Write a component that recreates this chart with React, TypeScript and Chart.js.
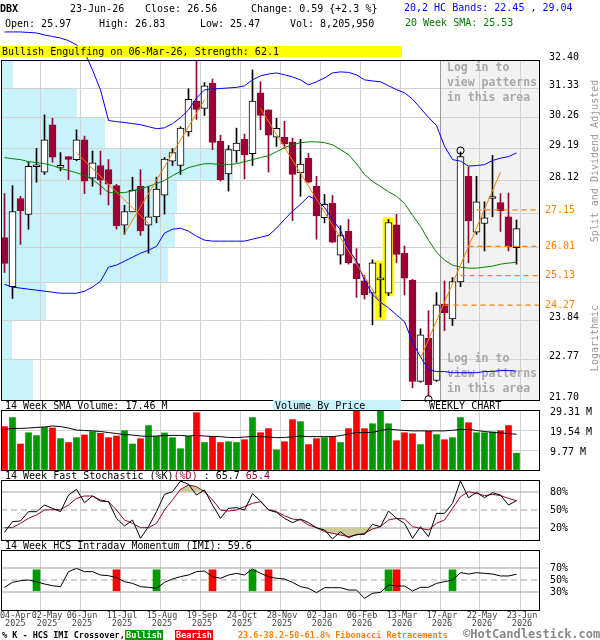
import React, { useEffect, useRef } from 'react';
import { Chart, registerables } from 'chart.js';

Chart.register(...registerables);

const MONO = '"DejaVu Sans Mono", "Liberation Mono", monospace';

// ---------------- data (weekly, 04-Apr-2025 ... 23-Jun-2026) ----------------
const openP = [26.28, 24.80, 27.52, 27.01, 28.57, 28.39, 30.02, 28.55, 28.91, 28.81,
  29.49, 28.19, 28.61, 28.47, 27.94, 26.67, 27.09, 27.92, 26.67, 26.93,
  27.63, 28.76, 28.61, 29.77, 30.87, 30.60, 31.53, 29.45, 28.33, 29.11,
  29.51, 29.01, 31.17, 30.55, 29.58, 29.58, 29.41, 28.36, 28.85, 27.92,
  26.90, 27.36, 25.74, 26.48, 25.49, 24.97, 24.61, 25.00, 24.61, 26.68,
  25.80, 24.99, 22.18, 23.34, 22.21, 24.30, 23.88, 24.94, 28.25, 26.45,
  26.72, 27.52, 27.39, 26.93, 25.97];
const highP = [27.68, 27.94, 27.59, 28.72, 29.19, 30.37, 30.25, 29.05, 28.91, 29.84,
  29.62, 29.10, 29.10, 28.81, 27.98, 27.30, 28.22, 28.47, 27.92, 28.22,
  28.88, 29.19, 29.95, 31.32, 32.36, 31.55, 31.68, 29.65, 29.29, 29.90,
  29.69, 32.02, 31.58, 30.55, 30.25, 30.14, 29.55, 29.51, 29.02, 28.25,
  27.65, 27.62, 26.65, 26.85, 25.94, 25.14, 25.60, 25.48, 26.85, 27.01,
  26.02, 25.02, 23.60, 24.11, 24.63, 24.97, 25.07, 29.07, 28.56, 28.25,
  27.41, 28.95, 27.68, 27.70, 26.83];
const lowP = [25.22, 24.46, 26.07, 26.54, 28.05, 28.31, 28.72, 28.43, 28.14, 28.77,
  27.68, 27.92, 27.65, 27.31, 26.54, 26.38, 27.09, 26.35, 25.80, 26.74,
  27.02, 28.61, 28.31, 29.62, 30.21, 30.35, 29.15, 28.09, 27.76, 28.72,
  28.16, 28.61, 29.84, 28.39, 29.26, 29.19, 26.81, 27.59, 28.03, 26.23,
  26.74, 26.12, 25.47, 25.47, 24.49, 24.44, 23.71, 23.93, 24.54, 25.51,
  24.56, 22.01, 22.16, 21.80, 22.18, 23.55, 23.69, 24.80, 25.51, 26.38,
  25.87, 26.93, 26.47, 25.87, 25.47];
const closeP = [25.49, 27.10, 27.12, 28.58, 28.62, 29.49, 28.89, 28.57, 28.82, 29.49,
  28.09, 28.70, 28.12, 27.99, 26.64, 27.10, 27.79, 26.49, 26.93, 27.83,
  28.83, 29.05, 29.90, 30.93, 30.57, 31.43, 29.40, 28.14, 29.15, 29.38,
  28.98, 30.87, 30.35, 29.65, 29.89, 29.35, 28.31, 28.66, 28.05, 26.96,
  27.33, 26.14, 26.34, 25.51, 25.04, 24.56, 25.51, 25.04, 26.75, 25.76,
  25.05, 22.18, 23.43, 22.09, 24.28, 24.05, 24.95, 28.91, 26.80, 27.41,
  26.90, 27.56, 27.12, 26.00, 26.56];
const volumeM = [21.2, 25.6, 12.7, 18.2, 16.8, 20.8, 20.5, 15.3, 13.4, 15.8,
  17.1, 18.7, 17.9, 15.8, 16.6, 19.2, 12.7, 15.3, 21.7, 16.4,
  18.1, 15.8, 10.4, 16.4, 28.0, 13.4, 16.4, 13.4, 13.8, 13.4,
  14.8, 25.6, 18.2, 20.2, 9.9, 13.8, 24.6, 23.6, 12.4, 15.3,
  15.8, 16.3, 13.4, 20.2, 29.0, 20.2, 22.6, 29.0, 22.6, 14.3,
  18.2, 17.7, 12.4, 18.9, 17.3, 14.8, 15.8, 25.6, 23.1, 18.2,
  18.2, 18.6, 19.2, 21.7, 8.21];
const volumeSma14 = [19.8, 20.3, 20.3, 20.5, 20.8, 21.0, 21.5, 21.2, 20.5, 19.5,
  19.3, 19.1, 18.8, 18.3, 17.8, 17.3, 17.1, 16.6, 16.4, 16.6,
  16.8, 16.9, 16.9, 16.6, 16.9, 16.6, 16.4, 16.3, 15.9, 15.8,
  16.1, 16.4, 16.3, 16.1, 15.8, 15.9, 16.2, 16.6, 16.3, 16.3,
  16.3, 16.3, 16.8, 17.6, 18.3, 18.3, 18.4, 19.3, 19.9, 19.6,
  19.3, 19.1, 19.1, 19.1, 19.1, 19.1, 19.4, 19.8, 19.8, 19.3,
  18.8, 18.4, 18.1, 17.8, 17.46];
const bandUpper = [33.49, 33.49, 33.49, 33.47, 33.45, 33.37, 33.31, 33.25, 33.15, 32.98,
  32.71, 32.02, 31.28, 30.17, 30.13, 30.10, 30.06, 30.02, 29.95, 29.88,
  29.91, 30.06, 30.27, 30.55, 30.98, 31.28, 31.31, 31.33, 31.35, 31.37,
  31.43, 31.65, 31.80, 31.87, 31.91, 31.84, 31.76, 31.65, 31.46, 31.58,
  31.72, 31.91, 31.95, 31.93, 31.84, 31.65, 31.61, 31.58, 31.43, 31.29,
  31.17, 30.94, 30.61, 30.28, 29.99, 29.27, 28.81, 28.76, 28.59, 28.61,
  28.64, 28.78, 28.86, 28.91, 29.04];
const bandLower = [24.87, 24.79, 24.76, 24.73, 24.70, 24.67, 24.64, 24.61, 24.61, 24.61,
  24.67, 24.79, 24.96, 25.38, 25.44, 25.56, 25.68, 25.80, 25.89, 26.01,
  26.42, 26.54, 26.57, 26.48, 26.32, 26.20, 26.17, 26.17, 26.17, 26.17,
  26.17, 26.23, 26.29, 26.35, 26.57, 26.85, 27.11, 27.33, 27.59, 27.49,
  27.23, 26.85, 26.51, 25.92, 25.56, 24.99, 24.58, 24.35, 24.19, 23.99,
  23.80, 23.24, 22.83, 22.49, 22.44, 22.44, 22.41, 22.41, 22.41, 22.41,
  22.44, 22.44, 22.47, 22.47, 22.45];
const sma20 = [28.88, 28.84, 28.81, 28.74, 28.71, 28.67, 28.61, 28.51, 28.44, 28.37,
  28.27, 28.14, 27.94, 27.71, 27.71, 27.71, 27.77, 27.84, 27.91, 28.01,
  28.11, 28.27, 28.41, 28.54, 28.61, 28.67, 28.67, 28.64, 28.64, 28.67,
  28.74, 28.81, 28.88, 28.94, 29.08, 29.22, 29.32, 29.39, 29.42, 29.42,
  29.39, 29.32, 29.15, 28.98, 28.67, 28.31, 28.08, 27.91, 27.74, 27.59,
  27.36, 26.98, 26.63, 26.20, 25.83, 25.59, 25.44, 25.38, 25.35, 25.35,
  25.38, 25.41, 25.47, 25.50, 25.53];
const stochK = [12.8, 30.5, 31.7, 47.2, 47.2, 58.3, 52.8, 47.2, 75.0, 84.4,
  62.2, 73.3, 65.0, 63.9, 36.1, 23.3, 33.3, 2.8, 22.2, 47.2,
  76.1, 80.5, 98.3, 92.8, 75.0, 83.3, 58.3, 36.1, 52.8, 53.9,
  50.0, 77.2, 65.0, 50.0, 46.1, 36.1, 28.9, 35.0, 28.9, 20.5,
  16.7, 1.7, 13.9, 3.9, 9.4, 9.4, 26.1, 22.2, 48.3, 36.1,
  27.8, 2.8, 22.2, 5.6, 44.4, 44.4, 61.1, 98.3, 70.5, 79.4,
  70.5, 78.9, 75.0, 58.3, 65.7];
const stochD = [20.5, 20.5, 27.8, 36.1, 41.7, 50.0, 50.6, 50.6, 58.3, 69.4,
  73.3, 73.3, 66.7, 63.9, 50.0, 33.3, 27.8, 20.5, 20.5, 27.8,
  50.0, 66.7, 84.4, 91.7, 88.9, 80.5, 66.7, 50.0, 48.3, 50.0,
  55.6, 61.1, 63.9, 50.6, 47.2, 40.5, 35.0, 33.3, 25.0, 20.5,
  13.9, 11.1, 8.3, 5.6, 8.3, 11.1, 18.3, 22.2, 33.3, 36.1,
  35.0, 22.2, 19.4, 16.7, 27.8, 33.3, 52.8, 72.2, 80.5, 77.8,
  73.9, 76.1, 73.9, 69.4, 65.4];
const imi = [37.8, 46.1, 48.9, 50.0, 47.2, 43.3, 40.5, 38.9, 63.9, 69.4,
  63.9, 63.9, 58.3, 57.2, 53.9, 47.2, 44.4, 38.9, 37.8, 36.1,
  46.1, 51.7, 55.6, 58.3, 63.9, 65.0, 55.6, 52.8, 58.3, 61.1,
  58.3, 68.3, 61.1, 55.6, 52.8, 51.7, 46.1, 38.9, 36.1, 28.9,
  37.2, 37.2, 37.2, 33.3, 33.3, 19.4, 27.8, 29.4, 41.7, 40.0,
  40.0, 31.7, 37.8, 37.8, 44.4, 47.2, 50.0, 62.2, 60.0, 62.2,
  61.1, 60.0, 56.7, 56.7, 59.6];
const imiBullIdx = [4, 19, 31, 48, 56];
const imiBearIdx = [14, 26, 33, 49];
const imiMarkerRange = [32, 67];

const priceTicks = [32.40, 31.33, 30.26, 29.19, 28.12, 27.05, 25.98, 24.91, 23.84, 22.77, 21.70];
const priceTickShown = [true, true, true, true, true, false, false, false, true, true, true];
// volume-by-price share (% of panel width) for each band between consecutive price ticks
const vbpShare = [2.2, 14.1, 19.3, 43.0, 32.7, 32.3, 31.0, 8.3, 2.0, 5.9];
const fibLevels = [27.15, 26.01, 25.13, 24.27];
const fibStartIdx = [59, 58, 57, 55];
const swingFromIdx = [9, 15, 32, 52];
const swingFromVal = [29.04, 26.40, 30.60, 22.80];
const swingToIdx = [18, 25, 47, 62];
const swingToVal = [26.72, 30.91, 24.34, 28.39];
const patternIdx = [47, 48];
const patternLow = [23.85, 24.53];
const patternHigh = [25.56, 26.91];
const pivotIdx = [53, 57];
const pivotVal = [21.72, 29.12];
const loginFromIdx = 54.5;
const volTicks = [0, 9.77, 19.54, 29.31];
const stochTicks = [20, 50, 80];
const imiTicks = [30, 50, 70];
const dateTickIdx = [0, 4, 9, 14, 19, 24, 29, 34, 39, 44, 49, 54, 59, 64];
const dateTickDay = ['04-Apr', '02-May', '06-Jun', '11-Jul', '15-Aug', '19-Sep', '24-Oct',
  '28-Nov', '02-Jan', '06-Feb', '13-Mar', '17-Apr', '22-May', '23-Jun'];
const dateTickYear = ['2025', '2025', '2025', '2025', '2025', '2025', '2025',
  '2025', '2026', '2026', '2026', '2026', '2026', '2026'];

// ---------------- styling ----------------
const GRID = '#d2d2d2';
const MAROON = '#990033';
const BLUE = '#0000ff';
const SMA_GREEN = '#008000';
const ORANGE = '#ff8000';
const VOL_GREEN = '#009900';
const VOL_RED = '#ff0000';
const KHAKI = '#cccc99';
const VBP_CYAN = '#c8f3fa';
const REF_GRAY = '#a0a0a0';
const X_MIN = -0.4375;
const X_MAX = 66.9375;
const GRID_OFFSET = 0.4375;
const CLEAR = 'rgba(0,0,0,0)';

const idx = openP.map((_, i) => i);
const isBull = idx.map((i) => closeP[i] >= openP[i]);
const series = (arr: number[]) => arr.map((v, i) => ({ x: i, y: v }));
const gridIdx = dateTickIdx.slice(1).map((i) => i + GRID_OFFSET);

function xAxis() {
  return {
    type: 'linear',
    min: X_MIN,
    max: X_MAX,
    offset: false,
    afterBuildTicks: (s: any) => { s.ticks = gridIdx.map((v) => ({ value: v })); },
    afterFit: (s: any) => { s.height = 0; s.paddingLeft = 0; s.paddingRight = 0; },
    ticks: { display: false },
    grid: { color: GRID, drawTicks: false, lineWidth: 1, offset: false },
    border: { display: false },
  };
}

function rightAxis(o: any) {
  return {
    type: o.type || 'linear',
    position: 'right',
    min: o.min,
    max: o.max,
    afterBuildTicks: (s: any) => { s.ticks = o.ticks.map((v: number) => ({ value: v })); },
    afterFit: (s: any) => { s.width = 60; s.paddingTop = 0; s.paddingBottom = 0; },
    ticks: {
      autoSkip: false,
      padding: o.padding,
      labelOffset: o.labelOffset,
      color: '#000',
      font: { family: MONO, size: 10 },
      callback: o.label,
    },
    grid: o.grid ? { color: GRID, drawTicks: false } : { display: false, drawTicks: false },
    border: { display: false },
  };
}

const framePlugin = {
  id: 'frame',
  afterDraw(chart: any) {
    const { ctx, chartArea: a } = chart;
    ctx.save();
    ctx.strokeStyle = '#000';
    ctx.lineWidth = 1;
    ctx.strokeRect(a.left + 0.5, a.top + 0.5, a.right - a.left - 1, a.bottom - a.top);
    ctx.restore();
  },
};

const mainDecor = {
  id: 'mainDecor',
  beforeDraw(chart: any) {
    const { ctx, chartArea: a, scales } = chart;
    const y = scales.y, x = scales.x, xv = scales.xv;
    ctx.save();
    const gx = Math.round(x.getPixelForValue(loginFromIdx));
    ctx.fillStyle = '#f2f2f2';
    ctx.fillRect(gx, a.top, a.right - gx, a.bottom - a.top);
    ctx.fillStyle = VBP_CYAN;
    for (let k = 0; k < vbpShare.length; k++) {
      const t = Math.round(y.getPixelForValue(priceTicks[k]));
      const b = Math.round(y.getPixelForValue(priceTicks[k + 1]));
      const w = Math.round(xv.getPixelForValue(vbpShare[k])) - a.left;
      ctx.fillRect(a.left, t, w, b - t);
    }
    ctx.restore();
  },
  beforeDatasetsDraw(chart: any) {
    const { ctx, chartArea: a, scales } = chart;
    const gx = Math.round(scales.x.getPixelForValue(loginFromIdx));
    ctx.save();
    ctx.strokeStyle = '#9a9a9a';
    ctx.lineWidth = 1;
    ctx.beginPath();
    ctx.moveTo(gx + 0.5, a.top);
    ctx.lineTo(gx + 0.5, a.bottom);
    ctx.stroke();
    ctx.font = 'bold 11.5px ' + MONO;
    ctx.fillStyle = '#a8a8a8';
    ctx.textBaseline = 'middle';
    ctx.textAlign = 'left';
    const lines = ['Log in to', 'view patterns', 'in this area'];
    lines.forEach((s, k) => {
      ctx.fillText(s, gx + 7, a.top + 8 + 15 * k);
      ctx.fillText(s, gx + 7, a.bottom - 41 + 15 * k);
    });
    ctx.restore();
  },
  afterDraw(chart: any) {
    const { ctx, chartArea: a, scales } = chart;
    ctx.save();
    ctx.font = '10px ' + MONO;
    ctx.fillStyle = ORANGE;
    ctx.textAlign = 'left';
    ctx.textBaseline = 'middle';
    fibLevels.forEach((v) => {
      ctx.fillText(v.toFixed(2), a.right + 5, scales.y.getPixelForValue(v));
    });
    ctx.restore();
  },
};

const dateLabels = {
  id: 'dateLabels',
  afterDraw(chart: any) {
    const { ctx, chartArea: a, scales } = chart;
    ctx.save();
    ctx.font = '8.5px ' + MONO;
    ctx.fillStyle = '#444';
    ctx.textAlign = 'center';
    ctx.textBaseline = 'middle';
    let prevRight = -Infinity;
    dateTickIdx.forEach((i, k) => {
      const w = ctx.measureText(dateTickDay[k]).width;
      let px = Math.max(scales.x.getPixelForValue(i + GRID_OFFSET) + 2, w / 2);
      if (px - w / 2 < prevRight + 1) px = prevRight + 1 + w / 2;
      prevRight = px + w / 2;
      ctx.fillText(dateTickDay[k], px, a.bottom + 6);
      ctx.fillText(dateTickYear[k], px, a.bottom + 14);
    });
    ctx.restore();
  },
};

const baseOptions = (padding: any) => ({
  animation: false,
  responsive: false,
  events: [],
  layout: { padding, autoPadding: false },
  plugins: { legend: { display: false }, tooltip: { enabled: false } },
});

function refLine(v: number, dashed: boolean) {
  return {
    type: 'line',
    data: [{ x: X_MIN, y: v }, { x: X_MAX, y: v }],
    borderColor: REF_GRAY,
    borderWidth: 1,
    borderDash: dashed ? [6, 4] : [],
    pointRadius: 0,
    order: 20,
  };
}

function mainConfig(): any {
  const datasets: any[] = [
    {
      type: 'bar',
      data: patternIdx.map((i, k) => ({ x: i, y: [patternLow[k], patternHigh[k]] })),
      backgroundColor: '#ffff00',
      barThickness: 11, maxBarThickness: 11, grouped: false, order: 10,
    },
    {
      type: 'bar',
      data: idx.map((i) => ({ x: i, y: [lowP[i], highP[i]] })),
      backgroundColor: idx.map((i) => (isBull[i] ? '#000' : MAROON)),
      barThickness: 1, maxBarThickness: 1, grouped: false, order: 7,
    },
    {
      type: 'bar',
      data: idx.map((i) => ({ x: i, y: [Math.min(openP[i], closeP[i]), Math.max(openP[i], closeP[i])] })),
      backgroundColor: idx.map((i) => (isBull[i] ? '#fff' : MAROON)),
      borderColor: idx.map((i) => (isBull[i] ? '#000' : MAROON)),
      borderWidth: 1, borderSkipped: false, minBarLength: 2,
      barThickness: 7, maxBarThickness: 7, grouped: false, order: 6,
    },
    { type: 'line', data: series(bandUpper), borderColor: BLUE, borderWidth: 1, pointRadius: 0, clip: false, order: 4 },
    { type: 'line', data: series(bandLower), borderColor: BLUE, borderWidth: 1, pointRadius: 0, order: 4 },
    { type: 'line', data: series(sma20), borderColor: SMA_GREEN, borderWidth: 1, pointRadius: 0, order: 4 },
  ];
  fibLevels.forEach((v, k) => {
    datasets.push({
      type: 'line', data: [{ x: fibStartIdx[k], y: v }, { x: X_MAX, y: v }],
      borderColor: ORANGE, borderWidth: 1.2, borderDash: [5, 4], pointRadius: 0, order: 3,
    });
  });
  swingFromIdx.forEach((f, k) => {
    datasets.push({
      type: 'line', data: [{ x: f, y: swingFromVal[k] }, { x: swingToIdx[k], y: swingToVal[k] }],
      borderColor: ORANGE, borderWidth: 1, pointRadius: 0, order: 3,
    });
  });
  datasets.push({
    type: 'line', showLine: false,
    data: pivotIdx.map((i, k) => ({ x: i, y: pivotVal[k] })),
    pointRadius: 3.6, pointBorderColor: '#000', pointBackgroundColor: CLEAR, pointBorderWidth: 1,
    clip: false, order: 1,
  });
  return {
    type: 'bar',
    data: { datasets },
    options: {
      ...baseOptions({ top: 60, left: 1, right: 0, bottom: 2 }),
      scales: {
        x: xAxis(),
        xv: { type: 'linear', min: 0, max: 100, display: false, offset: false },
        y: rightAxis({
          type: 'logarithmic', min: 21.70, max: 32.40, ticks: priceTicks, padding: 9, labelOffset: -3, grid: true,
          label: (v: any, i: number) => (priceTickShown[i] ? Number(v).toFixed(2) : ''),
        }),
      },
    },
    plugins: [mainDecor, framePlugin],
  };
}

function volumeConfig(): any {
  return {
    type: 'bar',
    data: {
      datasets: [
        {
          type: 'bar', data: series(volumeM),
          backgroundColor: idx.map((i) => (isBull[i] ? VOL_GREEN : VOL_RED)),
          barThickness: 6, maxBarThickness: 6, grouped: false, order: 2,
        },
        { type: 'line', data: series(volumeSma14), borderColor: '#000', borderWidth: 1, pointRadius: 0, order: 1 },
      ],
    },
    options: {
      ...baseOptions({ top: 6, left: 1, right: 0, bottom: 4 }),
      scales: {
        x: xAxis(),
        y: rightAxis({
          min: 0, max: 29.31, ticks: volTicks, padding: 10, labelOffset: 2, grid: true,
          label: (v: any, i: number) => (i === 0 ? '' : Number(v).toFixed(2) + ' M'),
        }),
      },
    },
    plugins: [framePlugin],
  };
}

function stochConfig(): any {
  return {
    type: 'line',
    data: {
      datasets: [
        refLine(80, false), refLine(50, true), refLine(20, false),
        {
          type: 'line', data: series(stochD), borderColor: CLEAR, borderWidth: 0, pointRadius: 0,
          fill: { target: { value: 20 }, above: CLEAR, below: KHAKI }, order: 3,
        },
        {
          type: 'line', data: series(stochD), borderColor: MAROON, borderWidth: 1, pointRadius: 0,
          fill: { target: { value: 80 }, above: KHAKI, below: CLEAR }, order: 2,
        },
        { type: 'line', data: series(stochK), borderColor: '#000', borderWidth: 1, pointRadius: 0, order: 1 },
      ],
    },
    options: {
      ...baseOptions({ top: 2, left: 1, right: 0, bottom: 2 }),
      scales: {
        x: xAxis(),
        y: rightAxis({ min: 0, max: 100, ticks: stochTicks, padding: 10, labelOffset: 0, grid: false, label: (v: any) => v + '%' }),
      },
    },
    plugins: [framePlugin],
  };
}

function imiConfig(): any {
  return {
    type: 'bar',
    data: {
      datasets: [
        refLine(70, false), refLine(50, true), refLine(30, false),
        {
          type: 'bar', data: imiBullIdx.map((i) => ({ x: i, y: imiMarkerRange })),
          backgroundColor: VOL_GREEN, barThickness: 7, maxBarThickness: 7, grouped: false, order: 5,
        },
        {
          type: 'bar', data: imiBearIdx.map((i) => ({ x: i, y: imiMarkerRange })),
          backgroundColor: VOL_RED, barThickness: 7, maxBarThickness: 7, grouped: false, order: 5,
        },
        { type: 'line', data: series(imi), borderColor: '#000', borderWidth: 1, pointRadius: 0, order: 1 },
      ],
    },
    options: {
      ...baseOptions({ top: 2, left: 1, right: 0, bottom: 20 }),
      scales: {
        x: xAxis(),
        y: rightAxis({ min: 0, max: 100, ticks: imiTicks, padding: 10, labelOffset: 0, grid: false, label: (v: any) => v + '%' }),
      },
    },
    plugins: [framePlugin, dateLabels],
  };
}

function ChartCanvas({ top, height, make }: { top: number; height: number; make: () => any }) {
  const ref = useRef<HTMLCanvasElement>(null);
  useEffect(() => {
    const chart = new Chart(ref.current as HTMLCanvasElement, make());
    return () => chart.destroy();
  }, []);
  return (
    <canvas
      ref={ref}
      width={600}
      height={height}
      style={{ position: 'absolute', left: 0, top, width: 600, height }}
    />
  );
}

function Txt({ x, y, children, style }: { x: number; y: number; children: any; style?: any }) {
  return (
    <div
      style={{
        position: 'absolute', left: x, top: y - 6, height: 12, lineHeight: '12px',
        fontSize: 10, fontFamily: MONO, whiteSpace: 'pre', color: '#000', ...style,
      }}
    >
      {children}
    </div>
  );
}

function VText({ cx, cy, w, text }: { cx: number; cy: number; w: number; text: string }) {
  return (
    <div
      style={{
        position: 'absolute', left: cx - w / 2, top: cy - 6, width: w, height: 12, lineHeight: '12px',
        fontSize: 10, fontFamily: MONO, color: '#999', textAlign: 'center', whiteSpace: 'pre',
        transform: 'rotate(-90deg)', transformOrigin: 'center center',
      }}
    >
      {text}
    </div>
  );
}

export default function App() {
  const small = { fontSize: 8.5, fontWeight: 'bold' as const };
  return (
    <div style={{ position: 'absolute', left: 0, top: 0, width: 600, height: 640, background: '#fff', overflow: 'hidden' }}>
      <ChartCanvas top={0} height={402} make={mainConfig} />
      <ChartCanvas top={404} height={70} make={volumeConfig} />
      <ChartCanvas top={478} height={64} make={stochConfig} />
      <ChartCanvas top={548} height={82} make={imiConfig} />

      {/* header */}
      <Txt x={0} y={9} style={{ fontWeight: 'bold' }}>DBX</Txt>
      <Txt x={70} y={9}>23-Jun-26</Txt>
      <Txt x={145} y={9}>Close: 26.56</Txt>
      <Txt x={251} y={9}>Change: 0.59 {'{'}+2.3 %{'}'}</Txt>
      <Txt x={5} y={24}>Open: 25.97</Txt>
      <Txt x={99} y={24}>High: 26.83</Txt>
      <Txt x={200} y={24}>Low: 25.47</Txt>
      <Txt x={290} y={24}>Vol: 8,205,950</Txt>
      <Txt x={404} y={8} style={{ color: BLUE }}>20,2 HC Bands: 22.45 , 29.04</Txt>
      <Txt x={405} y={23} style={{ color: SMA_GREEN }}>20 Week SMA: 25.53</Txt>
      <div style={{ position: 'absolute', left: 0, top: 46, width: 402, height: 11, background: '#ffff00' }} />
      <Txt x={2} y={51.5}>Bullish Engulfing on 06-Mar-26, Strength: 62.1</Txt>

      <VText cx={595} cy={161} w={170} text="Split and Dividend Adjusted" />
      <VText cx={595} cy={338} w={80} text="Logarithmic" />

      {/* panel labels */}
      <div style={{ position: 'absolute', left: 273, top: 400, width: 128, height: 10, background: VBP_CYAN }} />
      <Txt x={275} y={406}>Volume By Price</Txt>
      <Txt x={429} y={406}>WEEKLY CHART</Txt>
      <Txt x={5} y={406}>14 Week SMA Volume: 17.46 M</Txt>
      <Txt x={5} y={475.5}>
        14 Week Fast Stochastic (%K)<span style={{ color: MAROON }}>(%D)</span> : 65.7 <span style={{ color: MAROON }}>65.4</span>
      </Txt>
      <Txt x={5} y={545.5}>14 Week HCS Intraday Momentum (IMI): 59.6</Txt>

      {/* bottom row */}
      <Txt x={2} y={635} style={small}>% K - HCS IMI Crossover,</Txt>
      <div style={{ position: 'absolute', left: 125, top: 630, width: 38, height: 10, background: VOL_GREEN }} />
      <Txt x={126} y={635} style={{ ...small, color: '#fff', width: 36, textAlign: 'center' }}>Bullish</Txt>
      <div style={{ position: 'absolute', left: 175, top: 630, width: 38, height: 10, background: VOL_RED }} />
      <Txt x={176} y={635} style={{ ...small, color: '#fff', width: 36, textAlign: 'center' }}>Bearish</Txt>
      <Txt x={238} y={635} style={{ ...small, color: ORANGE }}>23.6-38.2-50-61.8% Fibonacci Retracements</Txt>
      <Txt x={463} y={634} style={{ fontSize: 12, fontWeight: 'bold', color: '#888' }}>©HotCandlestick.com</Txt>
    </div>
  );
}
